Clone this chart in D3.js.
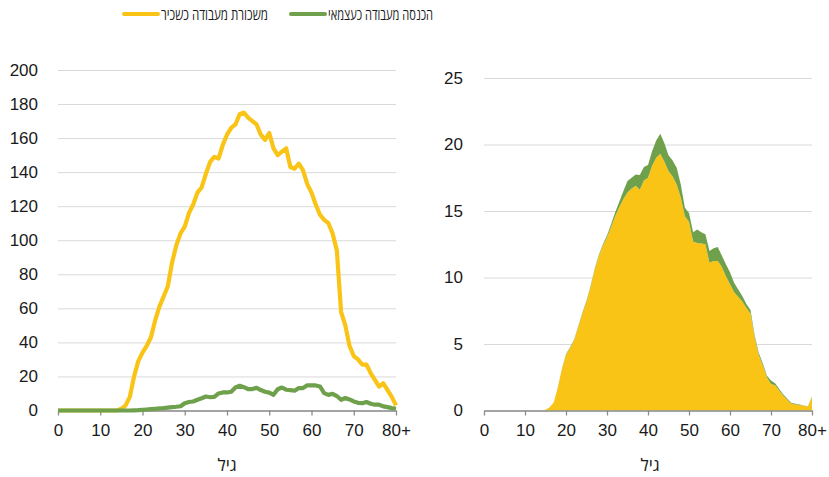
<!DOCTYPE html>
<html><head><meta charset="utf-8">
<script src="https://cdn.jsdelivr.net/npm/d3@7"></script>
<style>
body{margin:0;background:#fff;}
svg{font-family:"Open Sans","Noto Sans","DejaVu Sans",sans-serif;}
</style></head>
<body><svg id="c" width="829" height="477"></svg>
<script>
const ages = d3.range(0, 81);
const xTicks = [0,10,20,30,40,50,60,70,80];
const xTickLabels = ["0","10","20","30","40","50","60","70","80+"];
const yTicksLeft = [0,20,40,60,80,100,120,140,160,180,200];
const yTicksRight = [0,5,10,15,20,25];
const seriesNames = ["משכורת מעבודה כשכיר","הכנסה מעבודה כעצמאי"];
const axisTitle = "גיל";

// Left panel: lines
const wageLine = [0,0,0,0,0,0,0,0,0,0, 0,0,0,0,0,1,3,8,20,29,
  34,38,43,53,61,67,73,87,97,104, 108,116,121,128,131,139,146,149,148,156,
  162,166,168,174,175,172,170,168,162,159, 163,154,150,152,154,143,142,145,141,133,
  128,121,115,112,110,104,94,58,50,38, 32,30,27,27,22,18,14,16,12,8, 3];
const selfLine = [0,0,0,0,0,0,0,0,0,0, 0,0,0,0,0,0,0,0,0.1,0.2,
  0.4,0.6,0.8,1,1.2,1.4,1.7,2,2.2,2.5, 4.3,5,5.3,6.3,7.2,8.2,7.8,8,10,10.6,
  10.6,11,13.5,14.5,13.7,12.5,12.6,13.3,12,11, 10.5,9.2,12.5,13.5,12.2,12,11.6,13.2,13.2,14.8,
  14.7,14.7,14.1,10.2,9.2,9.8,8.5,6.3,7.3,6.5, 5.3,4.5,4.3,5,4,3.4,3.4,2.4,2,1.4, 1];

// Right panel: stacked areas
const wageArea = [0,0,0,0,0,0,0,0,0,0, 0,0,0,0,0,0.05,0.25,0.6,1.7,3.1,
  4.2,4.7,5.3,6.3,7.3,8.2,9.3,10.6,11.6,12.4, 13,13.8,14.6,15.3,15.9,16.4,16.7,16.9,16.6,17.3,
  17.5,18.4,19,19.3,18.7,18,17.6,17,16,14.6, 14.2,12.7,12.6,12.55,12.5,11.1,11.25,11.25,10.8,10.1,
  9.5,8.9,8.55,8.2,7.7,7.3,5.5,4.2,3.4,2.5, 2,1.9,1.5,1.1,0.8,0.5,0.45,0.42,0.35,0.3, 1.0];
const selfArea = [0,0,0,0,0,0,0,0,0,0, 0,0,0,0,0,0,0,0,0.02,0.03,
  0.04,0.05,0.05,0.06,0.06,0.07,0.08,0.08,0.09,0.1, 0.15,0.2,0.3,0.4,0.6,0.85,0.8,0.85,1.1,1.0,
  0.95,1.1,1.3,1.5,1.4,1.2,1.2,1.25,1.0,0.65, 0.65,0.7,1.0,0.85,0.75,0.9,0.95,1.05,0.85,0.9,
  0.9,0.7,0.55,0.4,0.3,0.25,0.15,0.15,0.15,0.12, 0.25,0.15,0.12,0.1,0.08,0.06,0.05,0.04,0.02,0.02, 0.05];

const YELLOW = "#F9C416", GREEN = "#6FA14C", GRID = "#D9D9D9", AXIS = "#8C8C8C", TXT = "#1a1a1a";
const svg = d3.select("#c");

function panel(x0, x1, y0, yTop, yMax, yTicks, pad) {
  const x = d3.scaleLinear().domain([0,80]).range([x0, x1]);
  const y = d3.scaleLinear().domain([0,yMax]).range([y0, yTop]);
  const gy = svg.append("g").attr("transform", `translate(${x0},0)`)
    .call(d3.axisLeft(y).tickValues(yTicks).tickSize(-(x1-x0)).tickPadding(pad).tickFormat(d3.format("d")));
  gy.select(".domain").remove();
  gy.selectAll(".tick line").attr("stroke", GRID).attr("stroke-width", 1);
  gy.selectAll(".tick text").attr("fill", TXT).style("font-size", "17px");
  return {x, y};
}
function xAxis(p, y0, cx) {
  const gx = svg.append("g").attr("class","xa").attr("transform", `translate(0,${y0})`)
    .call(d3.axisBottom(p.x).tickValues(xTicks).tickSize(5).tickSizeOuter(0).tickPadding(8)
      .tickFormat((d,i) => xTickLabels[i]));
  gx.select(".domain").attr("stroke", AXIS).attr("stroke-width", 1.3);
  gx.selectAll(".tick line").attr("stroke", AXIS).attr("stroke-width", 1.3);
  gx.selectAll(".tick text").attr("fill", TXT).style("font-size", "17px");
  svg.append("text").attr("x", cx).attr("y", 471).attr("text-anchor","middle")
    .attr("fill", TXT).style("font-size","17px").text(axisTitle);
}

// Left
const L = panel(58, 396, 410.5, 70, 200, yTicksLeft, 20);
const line = d3.line().x((d,i) => L.x(ages[i])).y(d => L.y(d));
svg.append("path").datum(wageLine).attr("d", line).attr("fill","none")
  .attr("stroke", YELLOW).attr("stroke-width", 4.2).attr("stroke-linejoin","round");
xAxis(L, 410.5, 227);
svg.append("path").datum(selfLine).attr("d", line).attr("fill","none")
  .attr("stroke", GREEN).attr("stroke-width", 4.2).attr("stroke-linejoin","round");

// Right
const R = panel(484, 812, 410.5, 78, 25, yTicksRight, 21);
const rows = ages.map((a,i) => ({age:a, wage:wageArea[i], self:selfArea[i]}));
const stack = d3.stack().keys(["wage","self"])(rows);
const area = d3.area().x(d => R.x(d.data.age)).y0(d => R.y(d[0])).y1(d => R.y(d[1]));
svg.append("g").selectAll("path").data(stack).join("path")
  .attr("d", area).attr("fill", (d,i) => i === 0 ? YELLOW : GREEN);
xAxis(R, 410.5, 650);

// Legend
const leg = [{c:YELLOW, t:seriesNames[0], x:124, r:268}, {c:GREEN, t:seriesNames[1], x:291, r:433}];
leg.forEach(l => {
  svg.append("line").attr("x1", l.x).attr("x2", l.x+34).attr("y1", 14).attr("y2", 14)
    .attr("stroke", l.c).attr("stroke-width", 4).attr("stroke-linecap","round");
  svg.append("text").attr("x", l.x+37).attr("y", 19.5).attr("fill", TXT)
    .style("font-size","15.5px").attr("textLength", l.r - l.x - 37).attr("lengthAdjust","spacingAndGlyphs")
    .text(l.t);
});
</script></body></html>
